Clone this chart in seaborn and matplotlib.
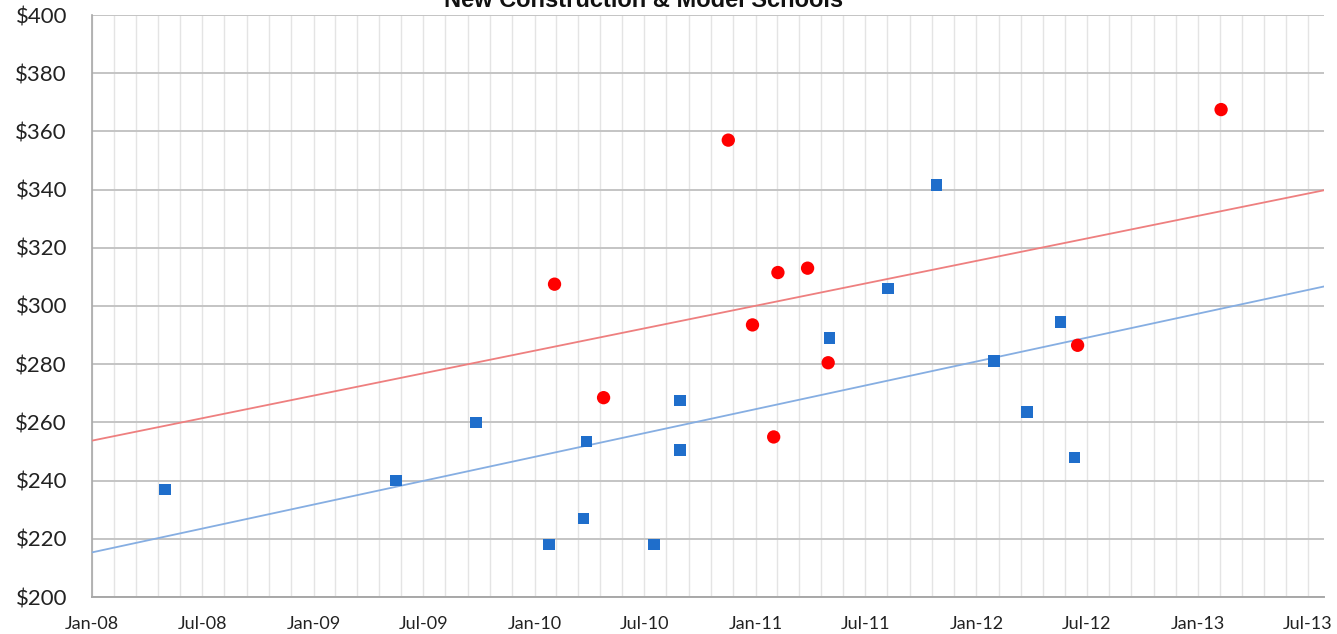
import matplotlib
matplotlib.use("Agg")
import matplotlib.pyplot as plt
import seaborn as sns
import numpy as np
import pandas as pd
from matplotlib.ticker import FixedLocator, FuncFormatter

# ---- data ----
blue_dates = ["2008-05-01", "2009-05-17", "2009-09-26", "2010-01-25", "2010-03-23",
              "2010-03-28", "2010-07-17", "2010-08-29", "2010-08-29", "2011-05-03",
              "2011-08-08", "2011-10-27", "2012-01-30", "2012-03-24", "2012-05-19",
              "2012-06-11"]
blue_values = [237, 240, 260, 218, 227, 253.5, 218, 267.5, 250.5, 289,
               306, 341.5, 281, 263.5, 294.5, 248]

red_dates = ["2010-02-03", "2010-04-25", "2010-11-17", "2010-12-27", "2011-01-31",
             "2011-02-07", "2011-03-28", "2011-05-01", "2012-06-16", "2013-02-08"]
red_values = [307.5, 268.5, 357, 293.5, 255, 311.5, 313, 280.5, 286.5, 367.5]

title = "New Construction & Model Schools"
y_ticks = [200, 220, 240, 260, 280, 300, 320, 340, 360, 380, 400]
origin = pd.Timestamp("2008-01-01")
x_tick_dates = pd.date_range("2008-01-01", "2013-07-01", freq="6MS")
x_max_days = 2035

# ---- build frames ----
def days(ds):
    return (pd.to_datetime(ds) - origin).days.astype(float)

blue_df = pd.DataFrame({"x": days(blue_dates), "y": blue_values})
red_df = pd.DataFrame({"x": days(red_dates), "y": red_values})
major = np.array((x_tick_dates - origin).days, dtype=float)
minor = []
for a, b in zip(major[:-1], major[1:]):
    minor.extend(np.linspace(a, b, 6)[1:-1])

sns.set_style("white")
fig = plt.figure(figsize=(13.37, 6.34), dpi=100)
ax = fig.add_axes([92 / 1337, 37 / 634, (1324 - 92) / 1337, (597 - 15) / 634])
ax.set_xlim(0, x_max_days)
ax.set_ylim(200, 400)

sns.regplot(data=red_df, x="x", y="y", ax=ax, ci=None, truncate=False,
            marker="o",
            scatter_kws=dict(s=92, color="#ff0000", edgecolor="none", zorder=5, alpha=1),
            line_kws=dict(color="#ee7f7f", lw=1.3, zorder=3))
sns.regplot(data=blue_df, x="x", y="y", ax=ax, ci=None, truncate=False,
            marker="s",
            scatter_kws=dict(s=70, color="#1f6ecb", edgecolor="none", zorder=5, alpha=1),
            line_kws=dict(color="#86aee2", lw=1.3, zorder=3))

ax.set_xlim(0, x_max_days)
ax.set_ylim(200, 400)
ax.set_xlabel("")
ax.set_ylabel("")

ax.xaxis.set_major_locator(FixedLocator(major))
ax.xaxis.set_minor_locator(FixedLocator(minor))
ax.set_xticklabels([d.strftime("%b-%y") for d in x_tick_dates])
ax.yaxis.set_major_locator(FixedLocator(y_ticks))
ax.yaxis.set_major_formatter(FuncFormatter(lambda v, p: f"${v:.0f}"))

ax.grid(False)
ax.grid(axis="y", which="major", color="#c4c4c4", lw=1.4, zorder=1)
ax.grid(axis="x", which="both", color="#e4e4e4", lw=1.0, zorder=1)
ax.set_axisbelow(True)

for s in ["top", "right"]:
    ax.spines[s].set_visible(False)
ax.spines["left"].set_color("#a8a8a8")
ax.spines["bottom"].set_color("#a8a8a8")
ax.spines["left"].set_linewidth(1.2)
ax.spines["bottom"].set_linewidth(1.4)

ax.tick_params(axis="both", which="both", length=0)
ax.tick_params(axis="y", labelsize=16, pad=18, colors="#222222")
ax.tick_params(axis="x", labelsize=13, pad=14, colors="#222222")
for lab in ax.get_yticklabels() + ax.get_xticklabels():
    lab.set_fontfamily("Lato")

fig.text(644 / 1337, 1 - 7 / 634, title, ha="center", va="baseline",
         fontsize=17, fontweight="bold", family="Liberation Sans", color="#111111")

fig.savefig("out.png", dpi=100)
